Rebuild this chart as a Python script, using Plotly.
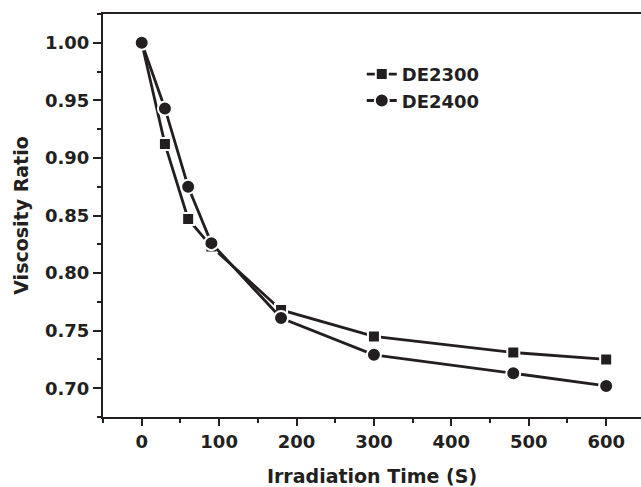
import plotly.graph_objects as go

# Irradiation time (s) and relative viscosity for the two samples
time_s = [0, 30, 60, 90, 180, 300, 480, 600]
de2300 = [1.000, 0.912, 0.847, 0.823, 0.768, 0.745, 0.731, 0.725]
de2400 = [1.000, 0.943, 0.875, 0.826, 0.761, 0.729, 0.713, 0.702]

INK = "#231f20"
FONT = "DejaVu Sans, Liberation Sans, Arial, sans-serif"

fig = go.Figure()

# white marker outline leaves a small gap between the line and each symbol
fig.add_trace(go.Scatter(
    x=time_s, y=de2300, name="DE2300", mode="lines+markers",
    legendgroup="a",
    line=dict(color=INK, width=2.8),
    marker=dict(symbol="square", size=12, color=INK,
                line=dict(color="white", width=2)),
))
fig.add_trace(go.Scatter(
    x=time_s, y=de2400, name="DE2400", mode="lines+markers",
    legendgroup="b",
    line=dict(color=INK, width=2.8),
    marker=dict(symbol="circle", size=14, color=INK,
                line=dict(color="white", width=2)),
))

axis_common = dict(
    showgrid=False, zeroline=False,
    showline=True, linecolor=INK, linewidth=2,
    ticks="outside", tickcolor=INK, tickwidth=2,
    tickfont=dict(family=FONT, size=18, color=INK, weight="bold"),
)

fig.update_xaxes(
    **axis_common,
    range=[-50, 645], dtick=100, tick0=0, ticklen=7,
    mirror=True,
    minor=dict(ticks="outside", dtick=50, tick0=0, ticklen=4,
               tickcolor=INK, tickwidth=2),
    title=dict(text="Irradiation Time (S)", standoff=19,
               font=dict(family=FONT, size=19, color=INK, weight="bold")),
)
fig.update_yaxes(
    **axis_common,
    range=[0.675, 1.025], dtick=0.05, tick0=0.70, ticklen=8,
    tickformat=".2f",
    minor=dict(ticks="outside", dtick=0.025, tick0=0.70, ticklen=4,
               tickcolor=INK, tickwidth=2),
    title=dict(text="Viscosity Ratio", standoff=11,
               font=dict(family=FONT, size=19, color=INK, weight="bold")),
)

fig.update_layout(
    width=641, height=487,
    margin=dict(l=103, r=0, t=14, b=70),
    paper_bgcolor="white", plot_bgcolor="white",
    showlegend=True,
    legend=dict(
        x=0.481, y=0.896, xanchor="left", yanchor="top",
        bgcolor="rgba(0,0,0,0)", borderwidth=0,
        font=dict(family=FONT, size=18, color=INK, weight="bold"),
        tracegroupgap=0, itemsizing="trace",
    ),
)

fig.write_html("out.html")
